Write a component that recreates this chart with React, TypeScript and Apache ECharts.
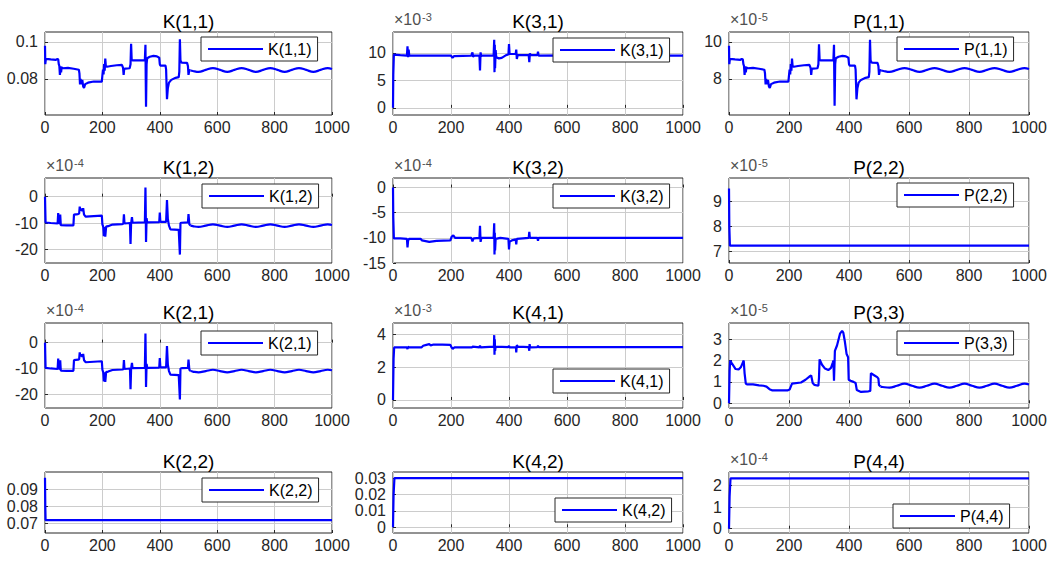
import React, { useEffect, useRef } from 'react';
import * as echarts from 'echarts';

// ---------- data (values in the units shown on each axis) ----------
const X_TICKS = [0, 200, 400, 600, 800, 1000];

// K(1,1)
const k11Pre = [[0,0.098],[1,0.088],[3,0.0909],[20,0.0906],[38,0.0903],[42,0.0908],[46,0.0906],[48,0.088],[50,0.087],[52,0.0822],[54,0.0868],[56,0.0835],[58,0.0862],[62,0.0858],[80,0.086],[100,0.0855],[118,0.085],[120,0.083],[122,0.077],[124,0.08],[126,0.0772],[130,0.0795],[133,0.076],[136,0.0752],[140,0.0772],[150,0.078],[170,0.0786],[198,0.0786],[200,0.082],[202,0.085],[204,0.0825],[206,0.088],[208,0.0845],[210,0.091],[212,0.087],[216,0.0866],[230,0.087],[250,0.0874],[268,0.0876],[272,0.086],[274,0.0822],[276,0.0855],[280,0.0856],[295,0.0858],[298,0.088],[300,0.099],[302,0.0905],[305,0.09],[320,0.09],[345,0.09],[348,0.0905],[350,0.0985],[351,0.08],[352,0.065],[354,0.088],[356,0.0912],[365,0.092],[378,0.0925],[390,0.0922],[398,0.0915],[400,0.088],[402,0.0872],[420,0.0872],[422,0.085],[425,0.069],[428,0.075],[432,0.078],[440,0.0795],[455,0.0806],[466,0.081],[468,0.084],[470,0.1015],[472,0.09],[476,0.0888],[495,0.0887],[498,0.087],[500,0.0822],[503,0.0848],[507,0.0846]];
const k11Post = [[507,0.0846],[515,0.0843],[535,0.0838],[560,0.0849],[585,0.0859],[610,0.0849],[635,0.0838],[660,0.0849],[685,0.0859],[710,0.0849],[735,0.0838],[760,0.0849],[785,0.0859],[810,0.0849],[835,0.0838],[860,0.0849],[885,0.0859],[910,0.0849],[935,0.0838],[960,0.0849],[985,0.0859],[1000,0.0854]];

// K(3,1)  x10^-3
const k31 = [[0,0],[1,6],[3,9.7],[25,9.6],[48,9.5],[50,11.2],[52,9.2],[54,10.6],[56,9.5],[100,9.5],[150,9.5],[200,9.5],[205,9.1],[210,9.4],[270,9.5],[274,10.1],[276,9.3],[280,9.5],[298,9.5],[300,6.8],[302,10.1],[304,9.4],[306,9.5],[347,9.5],[349,12.4],[350,6.5],[351,11.5],[352,7.2],[354,10.5],[356,9.2],[365,9.0],[375,9.1],[390,9.6],[398,9.7],[400,11.6],[402,9.8],[423,9.8],[425,10.6],[427,8.9],[430,9.6],[468,9.6],[470,8.3],[472,9.9],[475,9.6],[498,9.6],[500,10.2],[502,9.5],[600,9.55],[700,9.5],[800,9.55],[900,9.5],[1000,9.5]];

// P(1,1)  x10^-5
const p11Pre = [[0,9.8],[1,8.8],[3,9.09],[20,9.06],[38,9.03],[42,9.08],[46,9.06],[48,8.8],[50,8.7],[52,8.22],[54,8.68],[56,8.35],[58,8.62],[62,8.58],[80,8.6],[100,8.55],[118,8.5],[120,8.3],[122,7.7],[124,8.0],[126,7.72],[130,7.95],[133,7.6],[136,7.52],[140,7.72],[150,7.8],[170,7.86],[198,7.86],[200,8.2],[202,8.5],[204,8.25],[206,8.8],[208,8.45],[210,9.1],[212,8.7],[216,8.66],[230,8.7],[250,8.74],[268,8.76],[272,8.6],[274,8.22],[276,8.55],[280,8.56],[295,8.58],[298,8.8],[300,9.88],[302,9.05],[305,9.0],[320,9.0],[345,9.0],[348,9.05],[350,9.85],[351,8.0],[352,6.55],[354,8.8],[356,9.12],[365,9.2],[378,9.25],[390,9.22],[398,9.15],[400,8.8],[402,8.72],[420,8.72],[422,8.5],[425,6.9],[428,7.5],[432,7.8],[440,7.95],[455,8.06],[466,8.1],[468,8.4],[470,10.12],[472,9.0],[476,8.88],[495,8.87],[498,8.7],[500,8.22],[503,8.48],[507,8.46]];
const p11Post = [[507,8.46],[515,8.43],[535,8.38],[560,8.49],[585,8.59],[610,8.49],[635,8.38],[660,8.49],[685,8.59],[710,8.49],[735,8.38],[760,8.49],[785,8.59],[810,8.49],[835,8.38],[860,8.49],[885,8.59],[910,8.49],[935,8.38],[960,8.49],[985,8.59],[1000,8.54]];

// K(1,2)  x10^-4
const k12Pre = [[0,0],[1,-5],[2,-9.8],[20,-10],[44,-10.2],[46,-6.2],[48,-10],[51,-10.2],[53,-6.8],[55,-10.8],[75,-10.9],[99,-10.9],[101,-6.8],[115,-6.6],[119,-6.4],[121,-3.8],[123,-5.2],[127,-4.5],[130,-5.5],[133,-4.4],[136,-6.8],[142,-7.6],[170,-7.4],[198,-7.2],[200,-10.5],[203,-11.5],[205,-15],[207,-11.5],[210,-15.2],[213,-11.4],[220,-11.2],[235,-10.6],[270,-10.4],[273,-10.3],[275,-6.7],[277,-10.2],[296,-10.0],[298,-18],[300,-10.2],[303,-7.8],[305,-9.9],[345,-9.8],[348,-9.8],[350,3.5],[351,-5],[352,-17.2],[354,-8.2],[356,-9.8],[398,-9.7],[400,-6],[402,-9.6],[422,-9.6],[425,-1.3],[428,-8.5],[432,-11],[437,-12.4],[466,-12.6],[468,-12.5],[470,-22],[472,-10],[476,-9.9],[498,-9.8],[500,-6.6],[503,-10.5],[507,-11]];
const k12Post = [[507,-11],[515,-11.2],[535,-11.5],[560,-11.0],[585,-10.5],[610,-11.0],[635,-11.5],[660,-11.0],[685,-10.5],[710,-11.0],[735,-11.5],[760,-11.0],[785,-10.5],[810,-11.0],[835,-11.5],[860,-11.0],[885,-10.5],[910,-11.0],[935,-11.5],[960,-11.0],[985,-10.5],[1000,-10.7]];

// K(3,2)  x10^-4
const k32 = [[0,0],[1,-6],[3,-10.1],[25,-10.1],[48,-10.2],[50,-11.9],[52,-10.6],[55,-10.2],[95,-10.2],[100,-10.5],[125,-10.8],[150,-10.6],[198,-10.5],[202,-9.8],[208,-9.5],[214,-10.0],[270,-10.0],[274,-10.7],[278,-10.1],[298,-10.0],[300,-7.6],[302,-10.8],[305,-10.0],[347,-10],[349,-7.1],[350,-13.3],[351,-9],[352,-12.5],[354,-10.2],[370,-10.0],[398,-10.2],[400,-12.3],[402,-10.8],[410,-10.5],[423,-10.3],[425,-11.3],[427,-10.2],[468,-10.0],[470,-8.8],[472,-10.0],[498,-10.0],[500,-10.6],[502,-10.0],[1000,-10.0]];

// P(2,2)  x10^-5
const p22 = [[0,9.5],[1,8.0],[3,7.22],[500,7.22],[1000,7.22]];

// K(2,1)  x10^-4
const k21Pre = [[0,0],[1,-5],[2,-9.8],[20,-10],[44,-10.2],[46,-6.2],[48,-10],[51,-10.2],[53,-6.8],[55,-10.8],[75,-10.9],[99,-10.9],[101,-6.8],[115,-6.6],[119,-6.4],[121,-3.8],[123,-5.2],[127,-4.5],[130,-5.5],[133,-4.4],[136,-6.8],[142,-7.6],[170,-7.4],[198,-7.2],[200,-10.5],[203,-11.5],[205,-15],[207,-11.5],[210,-15.2],[213,-11.4],[220,-11.2],[235,-10.6],[270,-10.4],[273,-10.3],[275,-6.7],[277,-10.2],[296,-10.0],[298,-18],[300,-10.2],[303,-7.8],[305,-9.9],[345,-9.8],[348,-9.8],[350,3.5],[351,-5],[352,-17.2],[354,-8.2],[356,-9.8],[398,-9.7],[400,-6],[402,-9.6],[422,-9.6],[425,-1.3],[428,-8.5],[432,-11],[437,-12.4],[466,-12.6],[468,-12.5],[470,-22],[472,-10],[476,-9.9],[498,-9.8],[500,-6.6],[503,-10.5],[507,-11]];
const k21Post = [[507,-11],[515,-11.2],[535,-11.5],[560,-11.0],[585,-10.5],[610,-11.0],[635,-11.5],[660,-11.0],[685,-10.5],[710,-11.0],[735,-11.5],[760,-11.0],[785,-10.5],[810,-11.0],[835,-11.5],[860,-11.0],[885,-10.5],[910,-11.0],[935,-11.5],[960,-11.0],[985,-10.5],[1000,-10.7]];

// K(4,1)  x10^-3
const k41 = [[0,0],[2,2.5],[4,3.2],[48,3.2],[50,3.1],[52,3.25],[55,3.2],[98,3.2],[104,3.3],[115,3.36],[125,3.4],[130,3.33],[140,3.38],[170,3.37],[198,3.36],[202,3.2],[206,3.12],[212,3.2],[272,3.2],[275,3.25],[298,3.2],[300,3.32],[302,3.2],[348,3.25],[349,3.95],[350,2.75],[351,3.7],[352,3.0],[354,3.25],[398,3.22],[400,3.3],[402,3.2],[424,3.2],[425,2.9],[427,3.35],[430,3.25],[468,3.22],[470,3.0],[471,3.4],[473,3.2],[498,3.22],[500,3.3],[502,3.22],[1000,3.22]];

// P(3,3)  x10^-5
const p33Pre = [[0,0],[2,1.5],[4,2.0],[8,1.9],[15,1.75],[22,1.6],[32,1.58],[40,1.7],[46,1.9],[49,2.0],[52,1.4],[56,0.92],[60,0.88],[80,0.88],[100,0.84],[115,0.82],[125,0.78],[135,0.66],[145,0.6],[170,0.6],[195,0.6],[202,0.64],[210,0.92],[240,0.97],[255,1.1],[268,1.25],[274,1.3],[279,0.95],[285,0.86],[298,0.82],[300,1.2],[302,2.05],[310,1.8],[320,1.62],[331,1.55],[340,1.65],[346,1.9],[348,2.0],[350,1.05],[353,2.45],[360,2.7],[370,3.25],[377,3.38],[381,3.3],[386,2.9],[392,2.3],[397,2.15],[399,1.1],[405,1.05],[415,1.0],[422,0.95],[426,0.62],[440,0.53],[465,0.56],[471,0.58],[473,1.4],[485,1.3],[494,1.22],[498,1.15],[500,0.85],[505,0.78]];
const p33Post = [[505,0.78],[512,0.76],[535,0.73],[560,0.82],[585,0.92],[610,0.82],[635,0.73],[660,0.82],[685,0.92],[710,0.82],[735,0.73],[760,0.82],[785,0.92],[810,0.82],[835,0.73],[860,0.82],[885,0.92],[910,0.82],[935,0.73],[960,0.82],[985,0.92],[1000,0.88]];

// K(2,2)
const k22 = [[0,0.0965],[1,0.08],[2,0.0719],[500,0.0719],[1000,0.0719]];
// K(4,2)
const k42 = [[0,0],[2,0.02],[5,0.0302],[500,0.0302],[1000,0.0302]];
// P(4,4)  x10^-4
const p44 = [[0,0],[2,1.5],[5,2.34],[500,2.34],[1000,2.34]];

// y-axis ticks per panel
const TICKS_K11 = [0.08, 0.1];
const TICKS_K31 = [0, 5, 10];
const TICKS_P11 = [8, 10];
const TICKS_K12 = [-20, -10, 0];
const TICKS_K32 = [-15, -10, -5, 0];
const TICKS_P22 = [7, 8, 9];
const TICKS_K21 = [-20, -10, 0];
const TICKS_K41 = [0, 2, 4];
const TICKS_P33 = [0, 1, 2, 3];
const TICKS_K22 = [0.07, 0.08, 0.09];
const TICKS_K42 = [0, 0.01, 0.02, 0.03];
const TICKS_P44 = [0, 1, 2];

// ---------- layout ----------
const COLS = [{ left: 45, width: 287 }, { left: 393, width: 290 }, { left: 729, width: 300 }];
const ROWS = [{ top: 32, height: 83 }, { top: 178, height: 85 }, { top: 323, height: 85 }, { top: 472, height: 61 }];

const FAMILY = 'Liberation Sans, Arial, Helvetica, sans-serif';
const BLUE = '#0000ff';
const INK = '#262626';

type Panel = {
  name: string; row: number; col: number; parts: number[][][]; smoothLast?: boolean;
  min: number; max: number; ticks: number[]; exp?: string; legend: [number, number];
};

const PANELS: Panel[] = [
  { name: 'K(1,1)', row: 0, col: 0, parts: [k11Pre, k11Post], smoothLast: true, min: 0.0605, max: 0.1054, ticks: TICKS_K11, legend: [201, 37] },
  { name: 'K(3,1)', row: 0, col: 1, parts: [k31], min: -1.3, max: 13.8, ticks: TICKS_K31, exp: '-3', legend: [553, 38] },
  { name: 'P(1,1)', row: 0, col: 2, parts: [p11Pre, p11Post], smoothLast: true, min: 6.05, max: 10.54, ticks: TICKS_P11, exp: '-5', legend: [897, 37] },
  { name: 'K(1,2)', row: 1, col: 0, parts: [k12Pre, k12Post], smoothLast: true, min: -25.2, max: 7.1, ticks: TICKS_K12, exp: '-4', legend: [202, 184] },
  { name: 'K(3,2)', row: 1, col: 1, parts: [k32], min: -15, max: 1.9, ticks: TICKS_K32, exp: '-4', legend: [553, 184] },
  { name: 'P(2,2)', row: 1, col: 2, parts: [p22], min: 6.53, max: 9.92, ticks: TICKS_P22, exp: '-5', legend: [897, 183] },
  { name: 'K(2,1)', row: 2, col: 0, parts: [k21Pre, k21Post], smoothLast: true, min: -25.3, max: 7.6, ticks: TICKS_K21, exp: '-4', legend: [201, 331] },
  { name: 'K(4,1)', row: 2, col: 1, parts: [k41], min: -0.49, max: 4.69, ticks: TICKS_K41, exp: '-3', legend: [553, 369] },
  { name: 'P(3,3)', row: 2, col: 2, parts: [p33Pre, p33Post], smoothLast: true, min: -0.22, max: 3.75, ticks: TICKS_P33, exp: '-5', legend: [897, 331] },
  { name: 'K(2,2)', row: 3, col: 0, parts: [k22], min: 0.0644, max: 0.0999, ticks: TICKS_K22, legend: [202, 478] },
  { name: 'K(4,2)', row: 3, col: 1, parts: [k42], min: -0.0035, max: 0.0339, ticks: TICKS_K42, legend: [555, 498] },
  { name: 'P(4,4)', row: 3, col: 2, parts: [p44], min: -0.2, max: 2.64, ticks: TICKS_P44, exp: '-4', legend: [893, 504] },
];

function buildOption() {
  const grid: any[] = [];
  const xAxis: any[] = [];
  const yAxis: any[] = [];
  const series: any[] = [];
  const legend: any[] = [];
  const title: any[] = [];

  PANELS.forEach((p, i) => {
    const c = COLS[p.col];
    const r = ROWS[p.row];
    grid.push({
      left: c.left, top: r.top, width: c.width, height: r.height,
      show: true, borderColor: INK, borderWidth: 1, backgroundColor: '#ffffff', containLabel: false,
    });
    xAxis.push({
      gridIndex: i, type: 'value', min: X_TICKS[0], max: X_TICKS[X_TICKS.length - 1], interval: 200,
      axisLine: { show: false },
      axisTick: { show: true, inside: true, length: 3, lineStyle: { color: INK } },
      axisLabel: { fontSize: 16, color: INK, margin: 4, fontFamily: FAMILY, formatter: (v: number) => String(v) },
      splitLine: { show: true, lineStyle: { color: '#cccccc', width: 1 } },
    });
    yAxis.push({
      gridIndex: i, type: 'value', min: p.min, max: p.max,
      axisLine: { show: false },
      axisTick: { show: true, inside: true, length: 3, customValues: p.ticks, lineStyle: { color: INK } },
      axisLabel: { customValues: p.ticks, fontSize: 16, color: INK, margin: 7, fontFamily: FAMILY, formatter: (v: number) => String(v) },
      splitLine: { show: true, lineStyle: { color: '#cccccc', width: 1 } },
    });
    p.parts.forEach((data, k) => {
      series.push({
        type: 'line', name: p.name, xAxisIndex: i, yAxisIndex: i, data,
        symbol: 'none', showSymbol: false, silent: true,
        smooth: p.smoothLast && k === p.parts.length - 1 ? 0.4 : false,
        lineStyle: { color: BLUE, width: 2.2 }, itemStyle: { color: BLUE },
        z: 3,
      });
    });
    legend.push({
      show: true, data: [{ name: p.name, icon: 'rect' }], left: p.legend[0], top: p.legend[1], orient: 'horizontal',
      backgroundColor: '#ffffff', borderColor: INK, borderWidth: 1, borderRadius: 0,
      padding: [4, 6, 4, 7], itemWidth: 55, itemHeight: 2, itemGap: 5,
      selectedMode: false,
      itemStyle: { color: BLUE },
      textStyle: { fontSize: 16, color: '#000000', fontFamily: FAMILY },
    });
    title.push({
      text: p.name, left: c.left + c.width / 2, top: r.top - 21, textAlign: 'center', padding: 0,
      textStyle: { fontSize: 19, fontWeight: 'normal', color: '#000000', fontFamily: FAMILY, lineHeight: 20 },
    });
    if (p.exp) {
      title.push({
        text: '×10', left: c.left + 1, top: r.top - 23, padding: 0,
        textStyle: { fontSize: 16, fontWeight: 'normal', color: '#505050', fontFamily: FAMILY, lineHeight: 20 },
      });
      title.push({
        text: p.exp, left: c.left + 29, top: r.top - 21, padding: 0,
        textStyle: { fontSize: 11, fontWeight: 'normal', color: '#505050', fontFamily: FAMILY, lineHeight: 11 },
      });
    }
  });

  return {
    animation: false,
    backgroundColor: '#ffffff',
    textStyle: { fontFamily: FAMILY },
    title, grid, xAxis, yAxis, series, legend,
  };
}

export default function App() {
  const ref = useRef<HTMLDivElement>(null);
  useEffect(() => {
    if (!ref.current) return;
    const chart = echarts.init(ref.current, undefined, { renderer: 'svg' });
    chart.setOption(buildOption() as any);
    return () => chart.dispose();
  }, []);
  return (
    <div
      ref={ref}
      style={{ position: 'fixed', left: 0, top: 0, width: 1051, height: 561, background: '#ffffff' }}
    />
  );
}
